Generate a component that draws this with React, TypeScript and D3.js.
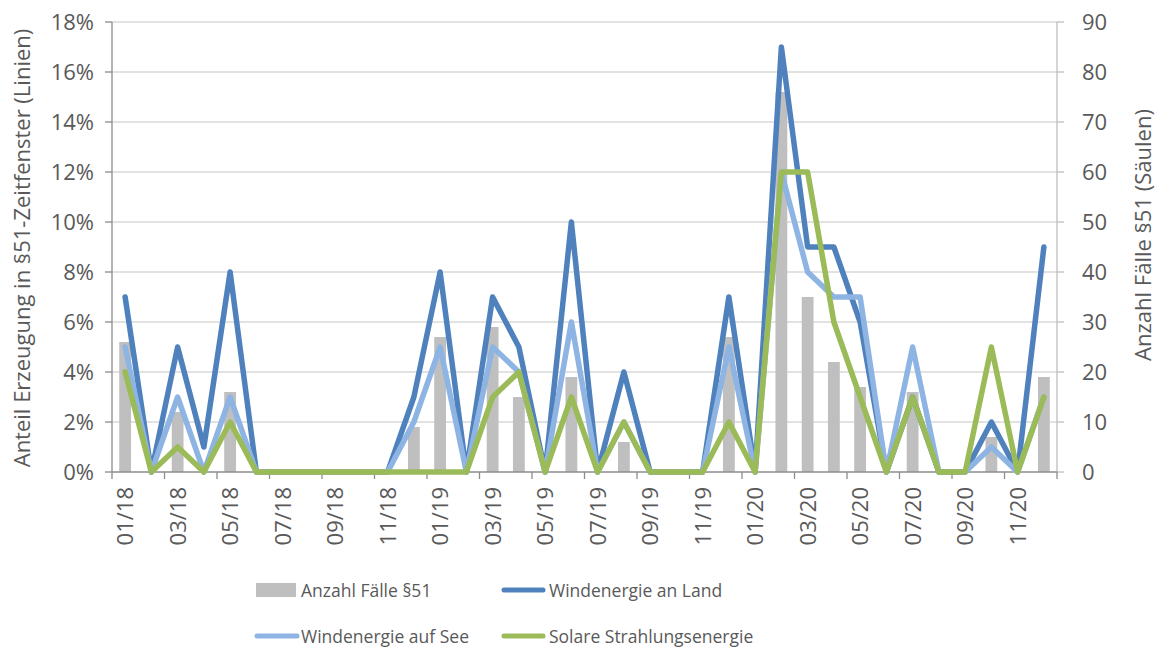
import React, { useEffect } from 'react';
import * as d3 from 'd3';

const months = [
  '01/18','02/18','03/18','04/18','05/18','06/18','07/18','08/18','09/18','10/18','11/18','12/18',
  '01/19','02/19','03/19','04/19','05/19','06/19','07/19','08/19','09/19','10/19','11/19','12/19',
  '01/20','02/20','03/20','04/20','05/20','06/20','07/20','08/20','09/20','10/20','11/20','12/20',
];

// Anzahl Fälle §51 (right axis, bars)
const faelle = [26,0,12,0,16,0,0,0,0,0,0,9,27,0,29,15,0,19,0,6,0,0,0,27,0,76,35,22,17,0,16,0,0,7,0,19];

// shares in % (left axis, lines)
const windLand = [7,0,5,1,8,0,0,0,0,0,0,3,8,0,7,5,0,10,0,4,0,0,0,7,0,17,9,9,6,0,3,0,0,2,0,9];
const windSee = [5,0,3,0,3,0,0,0,0,0,0,2,5,0,5,4,0,6,0,2,0,0,0,5,0,12,8,7,7,0,5,0,0,1,0,3];
const solar = [4,0,1,0,2,0,0,0,0,0,0,0,0,0,3,4,0,3,0,2,0,0,0,2,0,12,12,6,3,0,3,0,0,5,0,3];

const leftTicks = [0,2,4,6,8,10,12,14,16,18];
const rightTicks = [0,10,20,30,40,50,60,70,80,90];

const W = 1159, H = 649;
const left = 112, right = 1057, top = 22, bottom = 472;
const font = '"Open Sans", sans-serif';
const textCol = '#595959';

const lineSeries = [
  { name: 'Windenergie an Land', values: windLand, color: '#4f81bd' },
  { name: 'Windenergie auf See', values: windSee, color: '#8eb4e3' },
  { name: 'Solare Strahlungsenergie', values: solar, color: '#9bbb59' },
];

export default function App() {
  useEffect(() => { document.body.style.margin = '0'; }, []);

  const x = d3.scaleBand<string>().domain(months).range([left, right]);
  const step = x.step();
  const cx = (m: string) => (x(m) as number) + x.bandwidth() / 2;
  const yL = d3.scaleLinear().domain([0, 18]).range([bottom, top]);
  const yR = d3.scaleLinear().domain([0, 90]).range([bottom, top]);
  const barW = step * 0.45;

  const line = (vals: number[]) =>
    d3.line<number>().x((_, i) => cx(months[i])).y(v => yL(v))(vals) as string;

  const xTickPos = d3.range(0, months.length + 1, 2).map(i => left + i * step);

  return (
    <svg width={W} height={H} style={{ display: 'block', background: '#fff' }} fontFamily={font}>
      {/* gridlines */}
      {leftTicks.filter(t => t > 0).map(t => (
        <line key={'g' + t} x1={left} x2={right} y1={yL(t)} y2={yL(t)} stroke="#d9d9d9" strokeWidth={1.5} />
      ))}

      {/* bars */}
      {faelle.map((v, i) => v > 0 && (
        <rect key={'b' + i} x={cx(months[i]) - barW / 2} y={yR(v)} width={barW} height={bottom - yR(v)} fill="#bfbfbf" />
      ))}

      {/* axes */}
      <line x1={left} x2={left} y1={top} y2={bottom} stroke="#8c8c8c" strokeWidth={1.3} />
      <line x1={right} x2={right} y1={top} y2={bottom} stroke="#bfbfbf" strokeWidth={1.3} />
      <line x1={left} x2={right} y1={bottom} y2={bottom} stroke="#8c8c8c" strokeWidth={1.3} />
      {leftTicks.map(t => (
        <g key={'l' + t}>
          <line x1={left - 7} x2={left} y1={yL(t)} y2={yL(t)} stroke="#8c8c8c" strokeWidth={1.3} />
          <text x={94} y={yL(t)} dy="0.36em" textAnchor="end" fontSize={22} fill={textCol}>{t}%</text>
        </g>
      ))}
      {rightTicks.map(t => (
        <g key={'r' + t}>
          <line x1={right} x2={right + 7} y1={yR(t)} y2={yR(t)} stroke="#bfbfbf" strokeWidth={1.3} />
          <text x={1082} y={yR(t)} dy="0.36em" textAnchor="start" fontSize={22} fill={textCol}>{t}</text>
        </g>
      ))}
      {xTickPos.map((p, i) => (
        <line key={'xt' + i} x1={p} x2={p} y1={bottom} y2={bottom + 7} stroke="#8c8c8c" strokeWidth={1.3} />
      ))}
      {months.map((m, i) => i % 2 === 0 && (
        <text key={'xl' + m} transform={`translate(${cx(m)},${487}) rotate(-90)`} dy="0.36em"
          textAnchor="end" fontSize={22} fill={textCol}>{m}</text>
      ))}

      {/* lines */}
      {lineSeries.map(s => (
        <path key={s.name} d={line(s.values)} fill="none" stroke={s.color} strokeWidth={5.5}
          strokeLinejoin="round" strokeLinecap="round" />
      ))}

      {/* axis titles */}
      <text transform={`translate(30,${248}) rotate(-90)`} textAnchor="middle"
        fontSize={22} fill={textCol}>Anteil Erzeugung in §51-Zeitfenster (Linien)</text>
      <text transform={`translate(1151,${235}) rotate(-90)`} textAnchor="middle"
        fontSize={22} fill={textCol}>Anzahl Fälle §51  (Säulen)</text>

      {/* legend */}
      <rect x={256} y={583} width={40} height={14} fill="#bfbfbf" />
      <text x={301} y={597} fontSize={17.5} fill={textCol}>Anzahl Fälle §51</text>
      <line x1={504} x2={543} y1={590} y2={590} stroke={lineSeries[0].color} strokeWidth={5} strokeLinecap="round" />
      <text x={549} y={597} fontSize={17.5} fill={textCol}>{lineSeries[0].name}</text>
      <line x1={257} x2={297} y1={636} y2={636} stroke={lineSeries[1].color} strokeWidth={5} strokeLinecap="round" />
      <text x={301} y={643} fontSize={17.5} fill={textCol}>{lineSeries[1].name}</text>
      <line x1={504} x2={543} y1={636} y2={636} stroke={lineSeries[2].color} strokeWidth={5} strokeLinecap="round" />
      <text x={549} y={643} fontSize={17.5} fill={textCol}>{lineSeries[2].name}</text>
    </svg>
  );
}
